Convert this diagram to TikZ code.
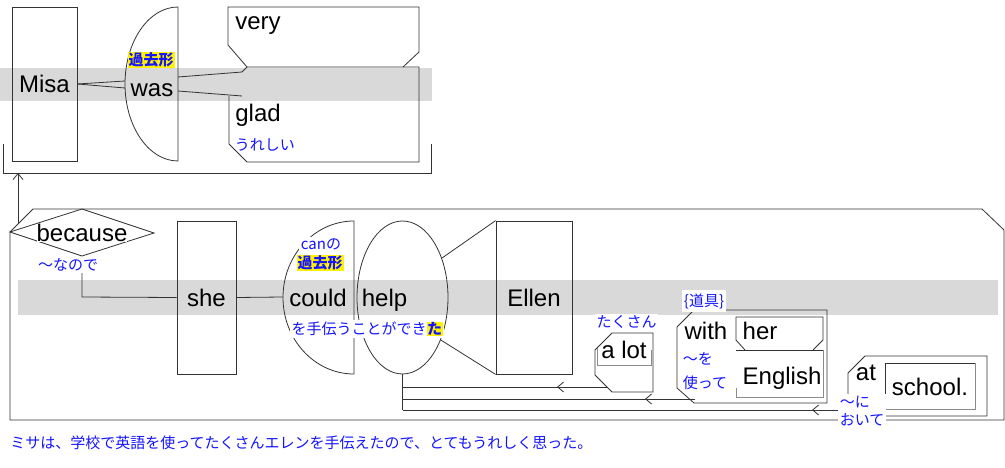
\documentclass[tikz,border=0pt]{standalone}
\usepackage{fontspec}
\setmainfont{Liberation Sans}
\newfontfamily\jp{Noto Sans CJK JP}
\usetikzlibrary{shapes.geometric, arrows.meta, decorations.markings, positioning}
\definecolor{bandgray}{RGB}{217,217,217}
\definecolor{noteblue}{RGB}{20,20,255}

\begin{document}
\begin{tikzpicture}[x=1pt, y=1pt, line width=0.8pt, draw=black!80, >={Straight Barb[length=6pt,width=10pt]}]
\tikzset{wd/.style={font=\fontsize{24}{28}\selectfont, inner sep=0pt},
  note/.style={font=\jp\fontsize{15}{18}\selectfont, text=noteblue, inner sep=1.5pt},
  hl/.style={font=\jp\bfseries\fontsize{15}{18}\selectfont, text=noteblue, fill=yellow, inner sep=1pt},
  wbox/.style={draw, rectangle, minimum width=#1, minimum height=153pt, inner sep=0pt}, wbox/.default=60pt,
  marrow/.style={postaction={decorate}, decoration={markings, mark=at position #1 with {\arrow{>}}}},
  shade/.style={draw=black!45}}
\useasboundingbox[fill=white] (0,0) rectangle (1005,-468);
% main lines
\fill[bandgray] (0,-68) rectangle (432,-101);
\fill[bandgray] (18,-280) rectangle (998,-315);

% ---- Misa was very glad
\node[wbox=65pt, wd, minimum height=154pt] (misa) at (44.5,-84) {Misa};
\draw (178,-7) arc[start angle=90, end angle=270, x radius=53pt, y radius=77pt] -- cycle;
\coordinate (wasin1) at (125,-81); \coordinate (wasin2) at (125,-88);
\draw (misa.east) -- (wasin1); \draw (misa.east) -- (wasin2);
\node[hl] (wastag) at (151,-60) {過去形};
\node[wd, anchor=base] (was) at (152,-97) {was};
\coordinate (gladnw) at (247,-67);
\draw (gladnw) -- (228,-45) -- (228,-7) -- (419,-7) -- (419,-52) -- (403,-67);
\draw (229,-96) -- (229,-144) -- (247,-162) -- (419,-162) -- (419,-67) -- (gladnw);
\draw (178,-77) -- (242,-72) -- (gladnw);
\draw (178,-91) -- (242,-96);
\node[wd, anchor=base west] (very) at (235,-30) {very};
\node[wd, anchor=base west] (glad) at (235,-122) {glad};
\node[note, anchor=west] (gladjp) at (233,-145) {うれしい};
\draw (3,-144) -- (3,-173) coordinate (topfoot) -- (431,-173) -- (431,-144);

% ---- because clause
\draw (33,-209) -- (982,-209) -- (1004,-230) -- (1004,-420) -- (10,-420) -- (10,-232) -- cycle;
\coordinate (clausetop) at (18,-224);
\draw[->] (clausetop) -- (clausetop |- topfoot);
\draw (10,-232) -- (82,-209) -- (154,-233) -- (82,-256) -- cycle;
\node[wd, fill=white, anchor=base] (because) at (82,-242) {because};
\node[note, fill=white] (becausejp) at (68,-265) {～なので};
\node[wbox=59pt, wd] (she) at (206.5,-297.5) {she};
\draw (82,-273) -- (82,-297) -- (she.west);
\draw (354,-221) arc[start angle=90, end angle=270, x radius=71pt, y radius=76.5pt] -- cycle;
\node[draw, ellipse, minimum width=91pt, minimum height=153pt, inner sep=0pt] (helpshape) at (402.5,-297.5) {};
\coordinate (couldin) at (283,-297);
\draw (she.east) -- (couldin);
\node[wd, anchor=base] (could) at (318,-306) {could};
\node[wd, anchor=base] (help) at (384.5,-306) {help};
\node[note, fill=white] (canno) at (321,-244) {canの};
\node[hl] (couldtag) at (320,-263) {過去形};
\node[note, fill=white] (helpjp) at (367,-329) {を手伝うことができ{\setlength\fboxsep{0.5pt}\colorbox{yellow}{\bfseries た}}};
\node[wbox=76pt, wd] (ellen) at (534,-297.5) {Ellen};
\draw (helpshape.45) -- (ellen.north west);
\draw (helpshape.-48) -- (ellen.south west);

% a lot
\node[note, fill=white, minimum width=59pt] (alotjp) at (626.5,-322) {たくさん};
\draw (612,-333) -- (595,-350) -- (595,-375) -- (612,-392) -- (653,-392) -- (653,-333) -- cycle;
\draw[shade] (597,-348) -- (597,-365) -- (651.5,-365) -- (651.5,-350);
\node[wd, anchor=base] (alot) at (624,-358) {a lot};

% with her English
\draw (694,-310) -- (827,-310) -- (827,-403) -- (694,-403) -- (677,-388) -- (677,-327) -- cycle;
\node[note, fill=white, minimum height=22pt] (withjp) at (704,-301) {\{道具\}};
\draw (736,-340) -- (736,-317) -- (823,-317) -- (823,-340) -- (813,-350);
\draw (736,-340) -- (745,-350);
\draw (736,-350) -- (823,-350);
\draw[shade] (823,-350) -- (823,-397) -- (736,-397) -- (736,-388);
\node[wd, anchor=base] (with) at (706,-339) {with};
\node[wd, anchor=base] (her) at (760,-339) {her};
\node[wd, anchor=base] (english) at (782,-384) {English};
\node[note, anchor=west] (withjp1) at (681,-359) {～を};
\node[note, anchor=west] (withjp2) at (681,-383) {使って};

% at school.
\draw (865,-356) -- (987,-356) -- (987,-416) -- (854,-416) -- (848,-410) -- (848,-373) -- cycle;
\draw (885,-409) -- (885,-363) -- (975,-363);
\draw[shade] (975,-363) -- (975,-409) -- (885,-409);
\node[wd, anchor=base] (at) at (866,-380) {at};
\node[wd, anchor=base] (school) at (930,-395) {school.};

% modifiers to help
\coordinate (alotfoot) at (607,-387);
\coordinate (withfoot) at (695,-399);
\coordinate (atfoot) at (848,-410);
\draw (helpshape.south) -- (helpshape.south |- atfoot);
\draw[marrow=50pt] (alotfoot) -- (alotfoot -| helpshape.south);
\draw[marrow=50pt] (withfoot) -- (withfoot -| helpshape.south);
\draw[marrow=36pt] (atfoot) -- (atfoot -| helpshape.south);
\node[note, fill=white, align=left, anchor=north west, font=\jp\fontsize{15}{18}\selectfont] (atjp) at (838,-394) {～に\\おいて};

\node[note, anchor=west, inner sep=0pt] (transl) at (10,-443) {ミサは、学校で英語を使ってたくさんエレンを手伝えたので、とてもうれしく思った。};
\end{tikzpicture}
\end{document}
